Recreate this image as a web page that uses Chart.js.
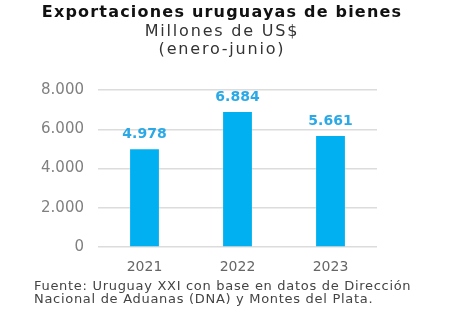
<!DOCTYPE html>
<html>
<head>
<meta charset="utf-8">
<script src="https://cdn.jsdelivr.net/npm/chart.js@4"></script>
<style>
  body { margin: 0; background: #fff; }
  #wrap { position: relative; width: 450px; height: 334px; font-family: "DejaVu Sans", sans-serif; }
  #myChart { position: absolute; left: 0; top: 0; }
  .title { position: absolute; left: 0; width: 444px; text-align: center; color: #222; }
  #t1 { top: 2px; font-weight: bold; font-size: 16px; letter-spacing: 1.2px; color: #111; }
  #t2 { top: 21px; font-size: 16px; letter-spacing: 1.8px; color: #333; }
  #t3 { top: 39px; font-size: 16px; letter-spacing: 1.8px; color: #333; }
  #foot { position: absolute; left: 34px; top: 280px; font-size: 13px; line-height: 12.5px; color: #444; letter-spacing: 0.7px; }
</style>
</head>
<body>
<div id="wrap">
  <canvas id="myChart" width="450" height="334"></canvas>
  <div class="title" id="t1">Exportaciones uruguayas de bienes</div>
  <div class="title" id="t2">Millones de US$</div>
  <div class="title" id="t3">(enero-junio)</div>
  <div id="foot">Fuente: Uruguay XXI con base en datos de Dirección<br>Nacional de Aduanas (DNA) y Montes del Plata.</div>
</div>
<script>
const years = ['2021', '2022', '2023'];
const exports = [4978, 6884, 5661];
const yTicks = [0, 2000, 4000, 6000, 8000];

function formatNumber(n) {
    return String(n).replace(/\B(?=(\d{3})+(?!\d))/g, '.');
}

const barLabels = {
    id: 'barLabels',
    afterDatasetsDraw(chart) {
        const ctx = chart.ctx;
        const meta = chart.getDatasetMeta(0);
        ctx.save();
        ctx.font = 'bold 14px "DejaVu Sans", sans-serif';
        ctx.fillStyle = '#2aa9e6';
        ctx.textAlign = 'center';
        ctx.textBaseline = 'bottom';
        meta.data.forEach((bar, i) => {
            ctx.fillText(formatNumber(exports[i]), bar.x, bar.y - 8);
        });
        ctx.restore();
    }
};

const myChartElement = document.querySelector('#myChart');

new Chart(myChartElement, {
    type: 'bar',
    data: {
        labels: years,
        datasets: [{
            data: exports,
            backgroundColor: '#00b0f0',
            categoryPercentage: 1,
            barPercentage: 0.31,
        }]
    },
    options: {
        responsive: false,
        animation: false,
        layout: {
            padding: { top: 90, right: 73, bottom: 57, left: 0 }
        },
        plugins: {
            legend: { display: false },
            tooltip: { enabled: false },
        },
        scales: {
            x: {
                grid: { display: false },
                border: { display: false },
                ticks: {
                    color: '#666',
                    padding: 4,
                    font: { family: 'DejaVu Sans', size: 14 },
                },
                afterFit(scale) { scale.height = 30; }
            },
            y: {
                min: 0,
                max: 8000,
                afterBuildTicks(scale) {
                    scale.ticks = yTicks.map(v => ({ value: v }));
                },
                grid: { color: '#dcdcdc', lineWidth: 1.5, drawTicks: false },
                border: { display: false },
                ticks: {
                    color: '#808080',
                    padding: 14,
                    font: { family: 'DejaVu Sans', size: 15 },
                    callback: (v) => formatNumber(v),
                },
                afterFit(scale) { scale.width = 98; }
            }
        }
    },
    plugins: [barLabels]
});
</script>
</body>
</html>
